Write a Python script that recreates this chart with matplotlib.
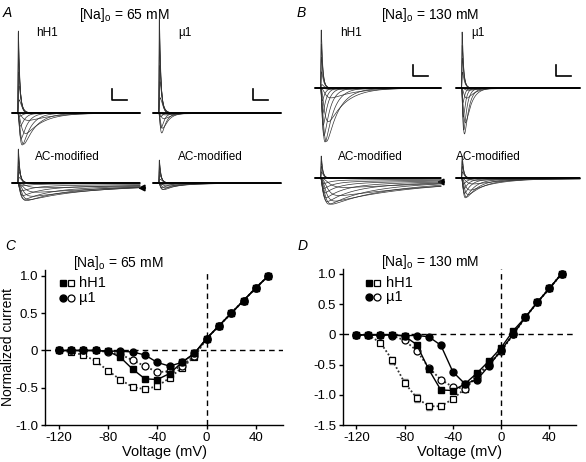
import numpy as np
import matplotlib.pyplot as plt

plt.rcParams['font.family'] = ['Liberation Sans', 'DejaVu Sans']
plt.rcParams['axes.unicode_minus'] = False

# test potentials (mV)
volt = [-120, -110, -100, -90, -80, -70, -60, -50, -40, -30, -20, -10, 0, 10, 20, 30, 40, 50]

# [Na]o = 65 mM, normalized peak current
hh1_65 = [0, 0, 0, 0, -0.01, -0.09, -0.25, -0.38, -0.39, -0.31, -0.16, -0.04, 0.16, 0.33, 0.5, 0.67, 0.84, 1.0]
hh1_ac_65 = [0, -0.02, -0.06, -0.14, -0.27, -0.39, -0.49, -0.52, -0.48, -0.37, -0.23, -0.09, 0.16, 0.33, 0.5, 0.67, 0.84, 1.0]
mu1_65 = [0, 0, 0, 0, -0.01, -0.01, -0.02, -0.06, -0.16, -0.21, -0.16, -0.04, 0.16, 0.33, 0.5, 0.67, 0.84, 1.0]
mu1_ac_65 = [0, 0, 0, 0, -0.02, -0.05, -0.13, -0.21, -0.29, -0.28, -0.21, -0.07, 0.16, 0.33, 0.5, 0.67, 0.84, 1.0]
err_hh1_ac_65 = [0, 0, 0, 0, 0.02, 0.03, 0.03, 0.03, 0.02, 0.01, 0, 0, 0, 0, 0, 0, 0, 0]

# [Na]o = 130 mM
hh1_130 = [-0.01, -0.01, -0.01, -0.01, -0.03, -0.17, -0.58, -0.92, -0.93, -0.82, -0.64, -0.44, -0.22, 0.06, 0.28, 0.53, 0.76, 1.0]
hh1_ac_130 = [-0.01, -0.01, -0.14, -0.43, -0.80, -1.05, -1.19, -1.19, -1.07, -0.90, -0.68, -0.48, -0.27, 0.0, 0.28, 0.53, 0.76, 1.0]
mu1_130 = [-0.01, -0.01, -0.01, -0.01, -0.02, -0.02, -0.04, -0.18, -0.62, -0.82, -0.75, -0.52, -0.26, 0.0, 0.28, 0.53, 0.76, 1.0]
mu1_ac_130 = [-0.01, -0.01, -0.01, -0.02, -0.10, -0.27, -0.55, -0.75, -0.87, -0.90, -0.70, -0.50, -0.28, 0.0, 0.28, 0.53, 0.76, 1.0]
err_hh1_ac_130 = [0, 0, 0.03, 0.06, 0.06, 0.07, 0.06, 0.05, 0.04, 0.03, 0.02, 0, 0, 0, 0, 0, 0, 0]
err_hh1_130 = [0, 0, 0, 0, 0, 0.03, 0.04, 0.03, 0.03, 0.02, 0.02, 0.02, 0, 0, 0, 0, 0, 0]

W, H = 586, 462
fig = plt.figure(figsize=(W / 100, H / 100), dpi=100)

# overlay in pixel coordinates for scale bars / arrows / labels
ov = fig.add_axes([0, 0, 1, 1])
ov.set_xlim(0, W)
ov.set_ylim(H, 0)
ov.axis('off')

T_END = 40.0
T_ON = 1.8
t = np.linspace(0, T_END, 2000)


def na_trace(v, tau_scale, persist):
    s = np.clip(t - T_ON, 0, None)
    tau_m = 0.3 * np.exp(-(v + 20) / 40)
    tau_h = (0.4 + 1.5 * np.exp(-(v + 30) / 25)) * tau_scale
    g = (1 - np.exp(-s / tau_m)) ** 3 * ((1 - persist) * np.exp(-s / tau_h) + persist * np.exp(-s / 60))
    return g / g.max()


def trace_group(x0, x1, base, ppu, amps, tau_scale, persist):
    h = 90
    ax = fig.add_axes([x0 / W, 1 - (base + h) / H, (x1 - x0) / W, 2 * h / H])
    ax.set_xlim(0, T_END)
    ax.set_ylim(-h / ppu, h / ppu)
    ax.axis('off')
    for v, a in zip(volt, amps):
        if v < -90:
            continue
        if a < 0:
            y = a * na_trace(v, tau_scale, persist)
        else:
            y = a * na_trace(v, 1.0, 0.0)
        ax.plot(t, y, color='0.2', lw=0.5, clip_on=False)
    ax.axhline(0, color='k', lw=1.3)
    return ax


# panel A
trace_group(12, 140, 113, 82, hh1_65, 1.0, 0.0)
trace_group(153, 281, 113, 95, mu1_65, 0.7, 0.0)
trace_group(12, 140, 183, 34, hh1_ac_65, 3.0, 0.3)
trace_group(153, 281, 183, 23, mu1_ac_65, 1.5, 0.05)
# panel B
trace_group(315, 441, 88, 58, hh1_130, 1.0, 0.0)
trace_group(456, 580, 88, 56, mu1_130, 0.7, 0.0)
trace_group(315, 441, 178, 22, hh1_ac_130, 3.0, 0.3)
trace_group(456, 580, 178, 22, mu1_ac_130, 1.5, 0.05)

# scale bars
for xb, yb in [(112, 100), (253, 100), (413, 76), (556, 76)]:
    ov.plot([xb, xb, xb + 15], [yb - 11, yb, yb], color='k', lw=1.2)

# arrows for sustained current
ov.annotate('', xy=(135, 188), xytext=(148, 188),
            arrowprops=dict(arrowstyle='-|>', color='k', lw=1.3, mutation_scale=9))
ov.annotate('', xy=(434, 182), xytext=(447, 182),
            arrowprops=dict(arrowstyle='-|>', color='k', lw=1.3, mutation_scale=9))

# text of top panels
ov.text(3, 13, 'A', fontsize=10, style='italic', va='center')
ov.text(297, 13, 'B', fontsize=10, style='italic', va='center')
ov.text(124, 15, '[Na]$_\\mathregular{o}$ = 65 mM', fontsize=10, ha='center', va='center')
ov.text(430, 15, '[Na]$_\\mathregular{o}$ = 130 mM', fontsize=10, ha='center', va='center')
for x, y, s in [(36, 33, 'hH1'), (178, 33, 'µ1'), (340, 33, 'hH1'), (471, 33, 'µ1'),
                (35, 157, 'AC-modified'), (178, 157, 'AC-modified'),
                (338, 157, 'AC-modified'), (456, 157, 'AC-modified')]:
    ov.text(x, y, s, fontsize=8.5, va='center')
ov.text(5, 246, 'C', fontsize=10, style='italic', va='center')
ov.text(298, 246, 'D', fontsize=10, style='italic', va='center')
ov.text(118, 263, '[Na]$_\\mathregular{o}$ = 65 mM', fontsize=10, ha='center', va='center')
ov.text(430, 262, '[Na]$_\\mathregular{o}$ = 130 mM', fontsize=10, ha='center', va='center')

DOT = (0, (1, 1.2))


def iv_panel(rect, hh1, hh1_ac, mu1, mu1_ac, err_open, err_fill, ylim, yticks, yticklabels, leg):
    ax = fig.add_axes(rect)
    ax.axhline(0, color='k', lw=1, ls=(0, (4, 3)))
    ax.axvline(0, color='k', lw=1, ls=(0, (4, 3)))
    ax.errorbar(volt, hh1_ac, yerr=err_open, fmt='none', ecolor='0.5', elinewidth=0.8, capsize=2.5, zorder=2)
    ax.errorbar(volt, hh1, yerr=err_fill, fmt='none', ecolor='0.5', elinewidth=0.8, capsize=2.5, zorder=2)
    ax.plot(volt, hh1_ac, ls=DOT, color='0.2', lw=1.3, marker='s', ms=5, mfc='white', mec='k', mew=0.9, zorder=3)
    ax.plot(volt, mu1_ac, ls=DOT, color='0.2', lw=1.3, marker='o', ms=5, mfc='white', mec='k', mew=0.9, zorder=3)
    ax.plot(volt, mu1, ls='-', color='k', lw=1, marker='o', ms=5, mfc='k', mec='k', zorder=4)
    ax.plot(volt, hh1, ls='-', color='k', lw=1, marker='s', ms=5, mfc='k', mec='k', zorder=4)
    ax.set_xlim(-131, 62)
    ax.set_ylim(*ylim)
    ax.set_xticks([-120, -80, -40, 0, 40])
    ax.set_xticklabels(['-120', '-80', '-40', '0', '40'])
    ax.set_yticks(yticks)
    ax.set_yticklabels(yticklabels)
    ax.spines['top'].set_visible(False)
    ax.spines['right'].set_visible(False)
    ax.spines['left'].set_linewidth(1)
    ax.spines['bottom'].set_linewidth(1)
    ax.tick_params(direction='out', length=3, width=1, labelsize=9.5, pad=2)
    ax.set_xlabel('Voltage (mV)', fontsize=10.5, labelpad=1)
    # legend
    xf, xo, xt, y1, y2 = leg
    ax.plot([xf], [y1], 's', ms=5, color='k', transform=ax.transAxes, clip_on=False)
    ax.plot([xo], [y1], 's', ms=5, mfc='white', mec='k', mew=0.9, transform=ax.transAxes, clip_on=False)
    ax.plot([xf], [y2], 'o', ms=5, color='k', transform=ax.transAxes, clip_on=False)
    ax.plot([xo], [y2], 'o', ms=5, mfc='white', mec='k', mew=0.9, transform=ax.transAxes, clip_on=False)
    ax.text(xt, y1, 'hH1', fontsize=10.5, va='center', transform=ax.transAxes)
    ax.text(xt, y2, 'µ1', fontsize=10.5, va='center', transform=ax.transAxes)
    return ax


axC = iv_panel([45 / W, 37 / H, 238 / W, 155 / H], hh1_65, hh1_ac_65, mu1_65, mu1_ac_65,
               err_hh1_ac_65, None, (-1.0, 1.08), [-1.0, -0.5, 0, 0.5, 1.0],
               ['-1.0', '-0.5', '0', '0.5', '1.0'], (0.075, 0.108, 0.142, 0.914, 0.817))
axC.set_ylabel('Normalized current', fontsize=10, labelpad=0)

axD = iv_panel([343 / W, 37 / H, 233 / W, 156 / H], hh1_130, hh1_ac_130, mu1_130, mu1_ac_130,
               err_hh1_ac_130, err_hh1_130, (-1.5, 1.08), [-1.5, -1.0, -0.5, 0, 0.5, 1.0],
               ['-1.5', '-1.0', '-0.5', '0', '0.5', '1.0'], (0.112, 0.146, 0.184, 0.910, 0.821))

fig.savefig('out.png', dpi=100)
